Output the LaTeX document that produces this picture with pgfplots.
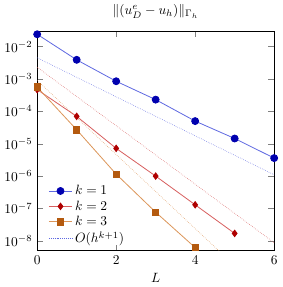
\documentclass[border=0pt]{standalone}
\usepackage{pgfplots}
\pgfplotsset{compat=1.18}
\definecolor{bl}{RGB}{0,0,175}
\definecolor{blL}{RGB}{95,105,225}
\definecolor{rd}{RGB}{175,0,0}
\definecolor{rdL}{RGB}{215,95,95}
\definecolor{or}{RGB}{180,90,15}
\definecolor{orL}{RGB}{220,150,90}
\begin{document}
\begin{tikzpicture}
\begin{axis}[
  scale only axis,
  width=176pt, height=163pt,
  ymode=log,
  xmin=0, xmax=6,
  ymin=5e-9, ymax=3e-2,
  xtick={0,2,4,6},
  ytick={1e-2,1e-3,1e-4,1e-5,1e-6,1e-7,1e-8},
  xlabel={$L$},
  title={$\|(u_D^e-u_h)\|_{\Gamma_h}$},
  legend style={draw=none, fill=none, at={(0.03,0.0)}, anchor=south west, row sep=-1pt},
  legend cell align=left,
]
\addplot[blL, semithick, mark=*, mark size=2.6pt, mark options={bl, fill=bl}] coordinates {
 (0,0.024) (1,0.0039) (2,8.5e-4) (3,2.3e-4) (4,5e-5) (5,1.45e-5) (6,3.6e-6)};
\addlegendentry{$k=1$}
\addplot[rdL, semithick, mark=diamond*, mark size=2.4pt, mark options={rd, fill=rd}] coordinates {
 (0,4.7e-4) (1,7e-5) (2,7.2e-6) (3,1e-6) (4,1.3e-7) (5,1.7e-8)};
\addlegendentry{$k=2$}
\addplot[orL, semithick, mark=square*, mark size=2.4pt, mark options={or, fill=or}] coordinates {
 (0,5.6e-4) (1,2.7e-5) (2,1.15e-6) (3,7.7e-8) (4,6.2e-9)};
\addlegendentry{$k=3$}
\addplot[blL, densely dotted, forget plot] coordinates {(0,4.5e-3) (6,1.1e-6)};
\addplot[rdL, densely dotted, forget plot] coordinates {(0,2.3e-3) (6,8.8e-9)};
\addplot[orL, densely dotted, forget plot] coordinates {(0,9e-4) (5,1.72e-9)};
\addlegendimage{blL, densely dotted}
\addlegendentry{$O(h^{k+1})$}
\end{axis}
\end{tikzpicture}
\end{document}
